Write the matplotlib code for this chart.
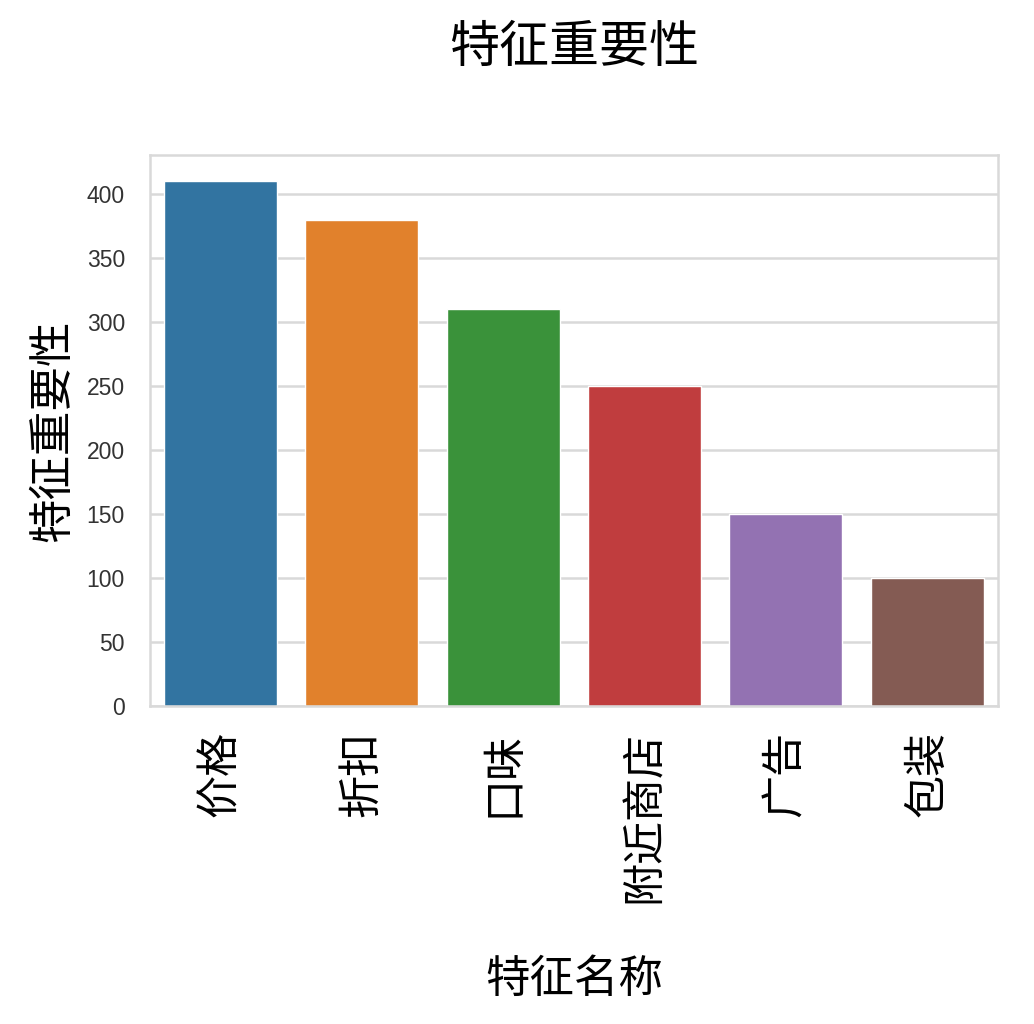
import matplotlib
matplotlib.use("Agg")
import matplotlib.pyplot as plt
import seaborn as sns

features = ["价格", "折扣", "口味", "附近商店", "广告", "包装"]
importance = [410, 380, 310, 250, 150, 100]
colors = ["#3274a1", "#e1812c", "#3a923a", "#c03d3e", "#9372b2", "#845b53"]

sns.set_style("whitegrid")
plt.rcParams["font.family"] = ["Noto Sans CJK SC", "DejaVu Sans"]

fig = plt.figure(figsize=(10.34, 10.24), dpi=100)
ax = fig.add_axes([0.145, 0.3105, 0.82, 0.538])

x = range(len(features))
ax.bar(x, importance, width=0.8, color=colors, edgecolor="white", linewidth=1)
ax.set_xlim(-0.5, len(features) - 0.5)
ax.set_xticks(list(x))
ax.set_xticklabels(features, rotation=90, fontsize=31, color="black")
ax.set_yticks(range(0, 401, 50))
for lab in ax.get_yticklabels():
    lab.set_fontfamily("Liberation Sans")
    lab.set_fontsize(16.5)
    lab.set_color("#333333")
ax.tick_params(axis="both", length=0)
ax.tick_params(axis="y", pad=18)
ax.tick_params(axis="x", pad=18)
ax.grid(axis="x", visible=False)
ax.grid(axis="y", color="#d9d9d9", linewidth=1.8)
for s in ax.spines.values():
    s.set_color("#d9d9d9")
    s.set_linewidth(1.8)

ax.set_ylabel("特征重要性", fontsize=32, color="black", labelpad=8)
ax.set_xlabel("特征名称", fontsize=32, color="black", labelpad=38)
fig.text(0.555, 0.953, "特征重要性", fontsize=36, ha="center", va="center", color="black")

fig.savefig("out.png", dpi=100)
